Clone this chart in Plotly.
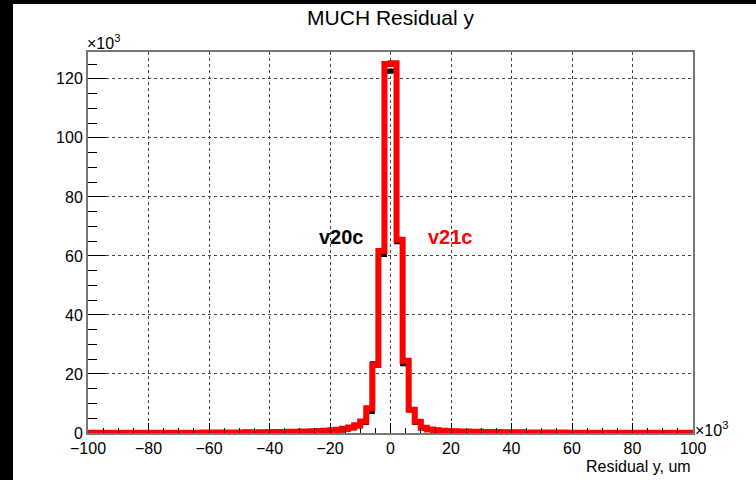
import plotly.graph_objects as go

# Histogram bin edges: 100 bins of width 2 (units of 10^3) from -100 to 100
bin_lo = -100
bin_width = 2
n_bins = 100

# v21c counts (x10^3)
v21c = [
    0.05, 0.05, 0.05, 0.05, 0.06, 0.06, 0.06, 0.07, 0.07, 0.07,
    0.08, 0.08, 0.09, 0.09, 0.10, 0.10, 0.11, 0.12, 0.12, 0.13,
    0.14, 0.15, 0.16, 0.17, 0.19, 0.20, 0.22, 0.24, 0.26, 0.28,
    0.31, 0.34, 0.37, 0.41, 0.45, 0.50, 0.55, 0.62, 0.70, 0.80,
    0.92, 1.10, 1.40, 1.90, 2.60, 3.90, 8.40, 23.0, 61.7, 125.0,
    125.3, 65.5, 24.5, 7.90, 3.80, 1.80, 1.20, 0.95, 0.80, 0.70,
    0.62, 0.55, 0.50, 0.45, 0.41, 0.37, 0.34, 0.31, 0.28, 0.26,
    0.24, 0.22, 0.20, 0.19, 0.17, 0.16, 0.15, 0.14, 0.13, 0.12,
    0.12, 0.11, 0.10, 0.10, 0.09, 0.09, 0.08, 0.08, 0.07, 0.07,
    0.07, 0.06, 0.06, 0.06, 0.05, 0.05, 0.05, 0.05, 0.05, 0.05,
]

# v20c counts (x10^3), mostly hidden below v21c
v20c = [
    0.05, 0.05, 0.05, 0.05, 0.06, 0.06, 0.06, 0.07, 0.07, 0.07,
    0.08, 0.08, 0.09, 0.09, 0.10, 0.10, 0.11, 0.12, 0.12, 0.13,
    0.14, 0.15, 0.16, 0.17, 0.19, 0.20, 0.22, 0.24, 0.26, 0.28,
    0.31, 0.34, 0.37, 0.41, 0.45, 0.50, 0.55, 0.62, 0.70, 0.80,
    0.90, 1.05, 1.35, 1.80, 2.40, 3.60, 7.30, 23.5, 60.5, 122.6,
    122.7, 64.8, 23.5, 7.90, 3.60, 1.70, 1.15, 0.92, 0.78, 0.68,
    0.60, 0.54, 0.49, 0.44, 0.40, 0.36, 0.33, 0.30, 0.28, 0.26,
    0.24, 0.22, 0.20, 0.19, 0.17, 0.16, 0.15, 0.14, 0.13, 0.12,
    0.12, 0.11, 0.10, 0.10, 0.09, 0.09, 0.08, 0.08, 0.07, 0.07,
    0.07, 0.06, 0.06, 0.06, 0.05, 0.05, 0.05, 0.05, 0.05, 0.05,
]

x_ticks = [-100, -80, -60, -40, -20, 0, 20, 40, 60, 80, 100]
y_ticks = [0, 20, 40, 60, 80, 100, 120]

edges = [bin_lo + bin_width * i for i in range(n_bins + 1)]


def step_xy(vals):
    return edges, list(vals) + [vals[-1]]


FONT = "Liberation Sans, Arial, Helvetica, sans-serif"

fig = go.Figure()
xs, ys = step_xy(v20c)
fig.add_trace(go.Scatter(x=xs, y=ys, mode="lines", line=dict(color="black", width=5, shape="hv"),
                         name="v20c", showlegend=False))
xs, ys = step_xy(v21c)
fig.add_trace(go.Scatter(x=xs, y=ys, mode="lines", line=dict(color="#ff0000", width=6, shape="hv"),
                         name="v21c", showlegend=False))

ml, mr, mt, mb = 88, 63, 52, 47
pw = 756 - ml - mr
ph = 480 - mt - mb

fig.update_layout(
    width=756, height=480,
    margin=dict(l=ml, r=mr, t=mt, b=mb, pad=0),
    paper_bgcolor="white", plot_bgcolor="white",
    font=dict(family=FONT, size=16, color="black"),
    title=dict(text="MUCH Residual y", x=0.5, xref="paper", xanchor="center",
               y=1 - 18 / 480, yanchor="middle", font=dict(size=21, family=FONT)),
    xaxis=dict(range=[-100, 100], tickvals=x_ticks, ticks="inside", ticklen=10, tickwidth=1,
               tickcolor="black", showline=True, linecolor="#777777", linewidth=2, mirror=True,
               showgrid=True, gridcolor="#444444", griddash="dot", gridwidth=1, zeroline=False,
               minor=dict(dtick=5, ticks="inside", ticklen=5, tickcolor="black", showgrid=False),
               tickfont=dict(size=16), title=None),
    yaxis=dict(range=[0, 129.1], tickvals=y_ticks, ticks="inside", ticklen=18, tickwidth=1,
               tickcolor="black", showline=True, linecolor="#777777", linewidth=2, mirror=True,
               showgrid=True, gridcolor="#444444", griddash="dot", gridwidth=1, zeroline=False,
               minor=dict(dtick=5, ticks="inside", ticklen=9, tickcolor="black", showgrid=False),
               tickfont=dict(size=16), title=None),
)

# Black canvas border (left and top strips)
fig.add_shape(type="rect", xref="paper", yref="paper", x0=-ml / pw, x1=(13 - ml) / pw,
              y0=-mb / ph, y1=(480 - mb) / ph, fillcolor="black", line_width=0, layer="above")
fig.add_shape(type="rect", xref="paper", yref="paper", x0=-ml / pw, x1=(756 - ml) / pw,
              y0=(480 - mb - 4) / ph, y1=(480 - mb) / ph, fillcolor="black", line_width=0, layer="above")

fig.add_annotation(text="×10<sup>3</sup>", xref="paper", yref="paper", x=0, y=1, xanchor="left",
                   yanchor="bottom", showarrow=False, font=dict(size=16), xshift=-3, yshift=-2)
fig.add_annotation(text="×10<sup>3</sup>", xref="paper", yref="paper", x=1, y=0, xanchor="left",
                   yanchor="bottom", showarrow=False, font=dict(size=16), xshift=0, yshift=-8)
fig.add_annotation(text="Residual y, um", xref="paper", yref="paper", x=1, y=0, xanchor="right",
                   yanchor="top", showarrow=False, font=dict(size=16), yshift=-23)
fig.add_annotation(text="<b>v20c</b>", x=-16.1, y=66.5, showarrow=False,
                   font=dict(size=20, color="black"))
fig.add_annotation(text="<b>v21c</b>", x=19.9, y=66.5, showarrow=False,
                   font=dict(size=20, color="#ff0000"))

fig.write_html("out.html")
